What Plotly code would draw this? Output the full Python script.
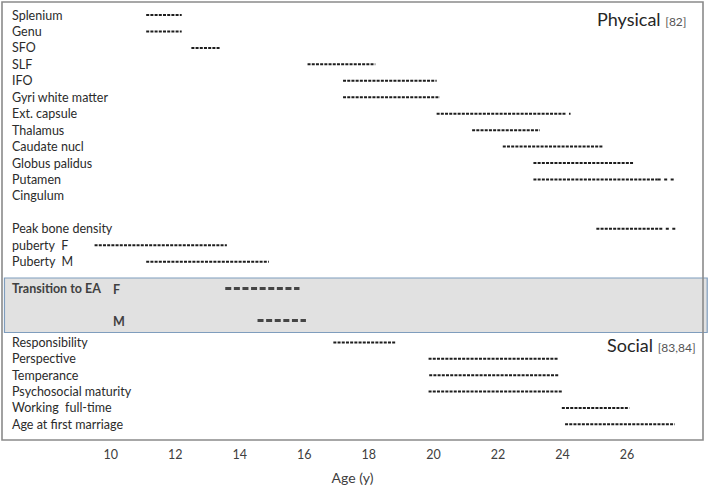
import plotly.graph_objects as go

# ---- data ----
physical_labels = ["Splenium", "Genu", "SFO", "SLF", "IFO", "Gyri white matter",
                   "Ext. capsule", "Thalamus", "Caudate nucl", "Globus palidus",
                   "Putamen", "Cingulum", "", "Peak bone density", "puberty  F", "Puberty  M"]
physical_start = [11.1, 11.1, 12.5, 16.1, 17.2, 17.2, 20.1, 21.2, 22.15, 23.1, 23.1, None, None, 25.05, 9.5, 11.1]
physical_end   = [12.2, 12.2, 13.4, 18.2, 20.1, 20.2, 24.0, 23.3, 25.25, 26.2, 26.95, None, None, 27.0, 13.6, 14.9]
physical_tail  = [None, None, None, None, None, None, 24.25, None, None, None, 27.55, None, None, 27.6, None, None]

transition_labels = ["F", "M"]
transition_start = [13.55, 14.55]
transition_end = [15.85, 16.05]

social_labels = ["Responsibility", "Perspective", "Temperance", "Psychosocial maturity",
                 "Working  full-time", "Age at first marriage"]
social_start = [16.9, 19.85, 19.87, 19.85, 23.98, 24.08]
social_end = [18.85, 23.87, 23.9, 24.0, 26.07, 27.48]

x_ticks = [10, 12, 14, 16, 18, 20, 22, 24, 26]

# ---- layout constants (pixel-like row positions on a reversed y axis) ----
ROW0, ROWSTEP = 15, 16.45
physical_y = [ROW0 + ROWSTEP * i for i in range(len(physical_labels))]
transition_y = [288.5, 320.5]
social_y = [342.5 + 16.35 * i for i in range(len(social_labels))]

FONT = "Lato"
LINE_COLOR = "#1e1e1e"
DASH = "3px,1.2px"

fig = go.Figure()

def add_seg(x0, x1, y, width=2, dash=DASH, color=LINE_COLOR):
    fig.add_trace(go.Scatter(x=[x0, x1], y=[y, y], mode="lines",
                             line=dict(color=color, width=width, dash=dash),
                             hoverinfo="skip", showlegend=False))

for s, e, t, y in zip(physical_start, physical_end, physical_tail, physical_y):
    if s is not None:
        add_seg(s, e, y)
    if t is not None:
        add_seg(e, t, y, dash="3px,3.5px")

for s, e, y in zip(transition_start, transition_end, transition_y):
    add_seg(s, e, y, width=3, dash="6px,2.6px", color="#454545")

for s, e, y in zip(social_start, social_end, social_y):
    add_seg(s, e, y)

annotations = []
LABEL_X = 0.0115
for lab, y in zip(physical_labels + social_labels, physical_y + social_y):
    if lab:
        annotations.append(dict(x=LABEL_X, xref="paper", y=y, yref="y", text=lab,
                                showarrow=False, xanchor="left", yanchor="middle",
                                font=dict(family=FONT, size=12.5, color="#2b2b2b")))

annotations.append(dict(x=LABEL_X, xref="paper", y=transition_y[0], yref="y",
                        text="<b>Transition to EA</b>", showarrow=False,
                        xanchor="left", yanchor="middle",
                        font=dict(family=FONT, size=12.5, color="#404040")))
for lab, y in zip(transition_labels, transition_y):
    annotations.append(dict(x=0.155, xref="paper", y=y + 1, yref="y",
                            text=f"<b>{lab}</b>", showarrow=False,
                            xanchor="left", yanchor="middle",
                            font=dict(family=FONT, size=12.5, color="#404040")))

annotations.append(dict(x=0.978, xref="paper", y=19, yref="y",
                        text="Physical <span style='font-size:12px;color:#555'>[82]</span>",
                        showarrow=False, xanchor="right", yanchor="middle",
                        font=dict(family=FONT, size=18, color="#262626")))
annotations.append(dict(x=0.993, xref="paper", y=345, yref="y",
                        text="Social <span style='font-size:12px;color:#555'>[83,84]</span>",
                        showarrow=False, xanchor="right", yanchor="middle",
                        font=dict(family=FONT, size=18, color="#262626")))

shapes = [
    dict(type="rect", xref="paper", yref="y", x0=0.0035, x1=1.006, y0=278, y1=332.5,
         fillcolor="#e1e1e1", line=dict(color="#7f9dbd", width=1.2), layer="below"),
    dict(type="rect", xref="paper", yref="paper", x0=0, x1=1, y0=0, y1=1,
         line=dict(color="#8a8a8a", width=1.6), fillcolor="rgba(0,0,0,0)"),
]

x_left = 10 + (2 - 110.7) / 32.27
x_right = 10 + (703 - 110.7) / 32.27

fig.update_layout(
    width=708, height=489,
    margin=dict(l=2, r=5, t=2, b=49),
    paper_bgcolor="white", plot_bgcolor="white",
    annotations=annotations, shapes=shapes,
    xaxis=dict(range=[x_left, x_right], tickvals=x_ticks, showgrid=False, zeroline=False,
               showline=False, ticks="", ticklabelstandoff=5,
               tickfont=dict(family=FONT, size=12.5, color="#404040"),
               title=dict(text="Age (y)", font=dict(family=FONT, size=14, color="#404040"),
                          standoff=12)),
    yaxis=dict(range=[440, 2], showgrid=False, zeroline=False, showline=False,
               showticklabels=False, ticks=""),
    font=dict(family=FONT),
)

fig.write_html("out.html", config={"displayModeBar": False},
               post_script="document.body.style.margin='0';document.body.style.overflow='hidden';")
